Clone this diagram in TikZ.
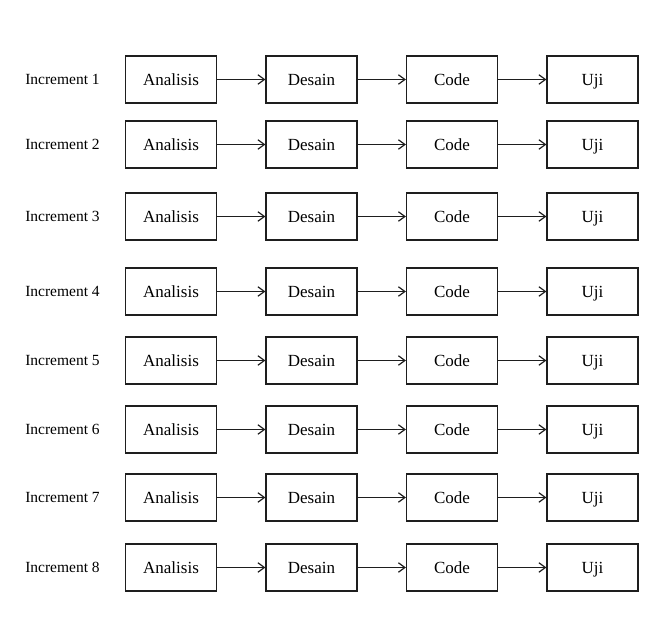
\documentclass[tikz,border=0pt]{standalone}
\usepackage{fontspec}
\setmainfont{Liberation Serif}
\usetikzlibrary{arrows.meta, positioning}
\definecolor{bordercolor}{RGB}{30,30,30}
\tikzset{
  stage/.style = {draw=bordercolor, line width=1.2pt, minimum width=91pt,
                  minimum height=47pt, inner sep=0pt, text height=11.5pt,
                  text depth=0pt, font=\fontsize{17}{20}\selectfont},
  inclabel/.style = {font=\fontsize{15.5}{18}\selectfont, inner sep=0pt,
                     text height=10pt, text depth=0pt},
  arr/.style = {-{Straight Barb[length=6.5pt, width=9.5pt, line width=1.2pt]},
                line width=1.3pt, color=bordercolor},
}
\begin{document}
\begin{tikzpicture}[x=1pt, y=-1pt, node distance=140.5pt, on grid]
  \useasboundingbox (0,0) rectangle (662,618);
  \foreach \i/\y in {1/79.5,2/144.5,3/216.5,4/291.5,5/360.5,6/429.5,7/497.5,8/567.5} {
    \node[inclabel] (inc\i) at (62.5,\y) {Increment \i};
    \node[stage] (ana\i) at (171,\y) {Analisis};
    \node[stage, right=of ana\i] (des\i) {Desain};
    \node[stage, right=of des\i] (cod\i) {Code};
    \node[stage, right=of cod\i] (uji\i) {Uji};
    \draw[arr] (ana\i) -- (des\i);
    \draw[arr] (des\i) -- (cod\i);
    \draw[arr] (cod\i) -- (uji\i);
  }
\end{tikzpicture}
\end{document}
